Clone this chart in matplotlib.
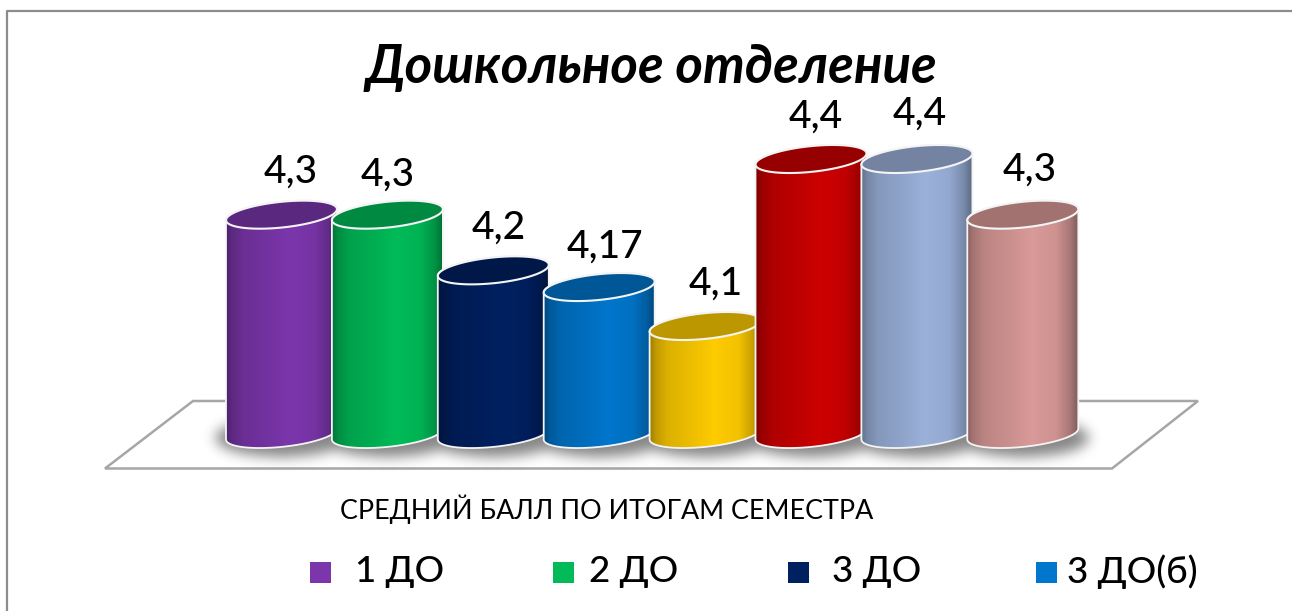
from matplotlib import pyplot as plt
from matplotlib.colors import LinearSegmentedColormap, to_rgb
from matplotlib.patches import PathPatch, Rectangle, Polygon
from matplotlib.path import Path
from matplotlib.transforms import Affine2D
import numpy as np

plt.rcParams['font.family'] = ['Lato', 'Open Sans', 'DejaVu Sans']

W, H = 1292, 611

# data
title = 'Дошкольное отделение'
axis_title = 'СРЕДНИЙ БАЛЛ ПО ИТОГАМ СЕМЕСТРА'
values = [4.3, 4.3, 4.2, 4.17, 4.1, 4.4, 4.4, 4.3]
value_labels = ['4,3', '4,3', '4,2', '4,17', '4,1', '4,4', '4,4', '4,3']
colors = ['#7B36AC', '#00BB58', '#002060', '#0076CC', '#FFCC00', '#CC0000', '#9BB1DA', '#D99A98']
legend_names = ['1 ДО', '2 ДО', '3 ДО', '3 ДО(б)']

# layout, axes fill the whole figure
px_per_unit = 556.7
px_per_bar = 105.9
x_first = 281.5
baseline = 3.906
top_value_y = 159
half_w = 55.5 / px_per_bar
skew = 5.5 / px_per_unit
lid_h = 12.9 / px_per_unit
label_dx = [9, 0, 5, 6, 11, 5, 3, 7]
label_dy = [42, 39, 42, 40, 42, 42, 45, 44]
legend_box_x = [310, 553, 788, 1036]
legend_text_x = [355, 589, 832, 1067]

fig = plt.figure(figsize=(W / 100, H / 100), dpi=100)
ax = fig.add_axes([0, 0, 1, 1])
ax.axis('off')
xlim = (-x_first / px_per_bar, (W - x_first) / px_per_bar)
ylim = (4.4 - (H - top_value_y) / px_per_unit, 4.4 + top_value_y / px_per_unit)
pixels = Affine2D().scale(1, -1).translate(0, H)

# frame and floor, in pixels
fig.add_artist(plt.Line2D([7, 7, W], [H, 11, 11], color='#8c8c8c', lw=1.6, transform=pixels))
ax.add_patch(Polygon([(193, 401), (1198, 401), (1112, 468.5), (105, 468.5)], closed=True, fc='white',
                     ec='#a6a6a6', lw=1.8, transform=pixels, zorder=1))

# soft shadow below the bars
gx = np.linspace(xlim[0], xlim[1], W)
gy = np.linspace(ylim[0], ylim[1], H)
X, Y = np.meshgrid(gx, gy)
mask = np.zeros_like(X)
for i in range(len(values)):
    inside = ((X - i) / (half_w * 1.2)) ** 2 + ((Y - baseline + 4 / px_per_unit) / (19 / px_per_unit)) ** 2 < 1
    mask[inside] = 1
kernel = np.exp(-np.arange(-20, 21) ** 2 / (2 * 6.5 ** 2))
kernel /= kernel.sum()
mask = np.apply_along_axis(np.convolve, 0, mask, kernel, 'same')
mask = np.apply_along_axis(np.convolve, 1, mask, kernel, 'same')
rgba = np.zeros(mask.shape + (4,))
rgba[..., 3] = mask * 0.48
ax.imshow(rgba, extent=(*xlim, *ylim), origin='lower', aspect='auto', zorder=2, interpolation='bilinear')


def ellipse_points(xc, yc, t):
    return np.column_stack([xc + half_w * np.cos(t), yc + skew * np.cos(t) - lid_h * np.sin(t)])


def draw_cylinder(i, value, color):
    z = 3 + i
    c = np.array(to_rgb(color))
    # shading runs dark, bright a bit right of the middle, dark
    cmap = LinearSegmentedColormap.from_list('c' + str(i), [
        (0.0, c * 0.62), (0.05, c * 0.75), (0.15, c * 0.86), (0.38, c * 0.93),
        (0.58, c), (0.8, c * 0.95), (0.93, c * 0.78), (1.0, c * 0.6)])
    front = ellipse_points(i, baseline, np.linspace(np.pi, 0, 60))
    back = ellipse_points(i, value, np.linspace(0, -np.pi, 60))
    body = Path(np.vstack([front, back, front[:1]]), closed=True)
    im = ax.imshow(np.linspace(0, 1, 256).reshape(1, -1), cmap=cmap, vmin=0, vmax=1, aspect='auto',
                   extent=(i - half_w, i + half_w, baseline - 0.05, value + 0.05), zorder=z)
    patch = PathPatch(body, fc='none', ec='#f4f4f4', lw=1.3, zorder=z + 0.2)
    ax.add_patch(patch)
    im.set_clip_path(patch)
    lid = Path(ellipse_points(i, value, np.linspace(0, 2 * np.pi, 90)), closed=True)
    ax.add_patch(PathPatch(lid, fc=c * 0.74, ec='#f4f4f4', lw=1.5, zorder=z + 0.4))


for i, (value, color) in enumerate(zip(values, colors)):
    draw_cylinder(i, value, color)
    ax.annotate(value_labels[i], (i, value), xytext=(label_dx[i], label_dy[i]), textcoords='offset pixels',
                ha='center', va='center', fontsize=28, fontweight='medium', color='black', zorder=20)

ax.set_xlim(xlim)
ax.set_ylim(ylim)

fig.text(651 / W, 1 - 68 / H, title, ha='center', va='center', fontsize=38, fontweight='bold', style='italic')
fig.text(607 / W, 1 - 509 / H, axis_title, ha='center', va='center', fontsize=19.4)

for name, bx, tx, color in zip(legend_names, legend_box_x, legend_text_x, colors):
    fig.add_artist(Rectangle((bx, 562), 21, 21, fc=color, ec='none', transform=pixels))
    fig.text(tx / W, 1 - 572 / H, name, ha='left', va='center', fontsize=26.5, fontweight='medium')

fig.savefig('out.png', dpi=100)
